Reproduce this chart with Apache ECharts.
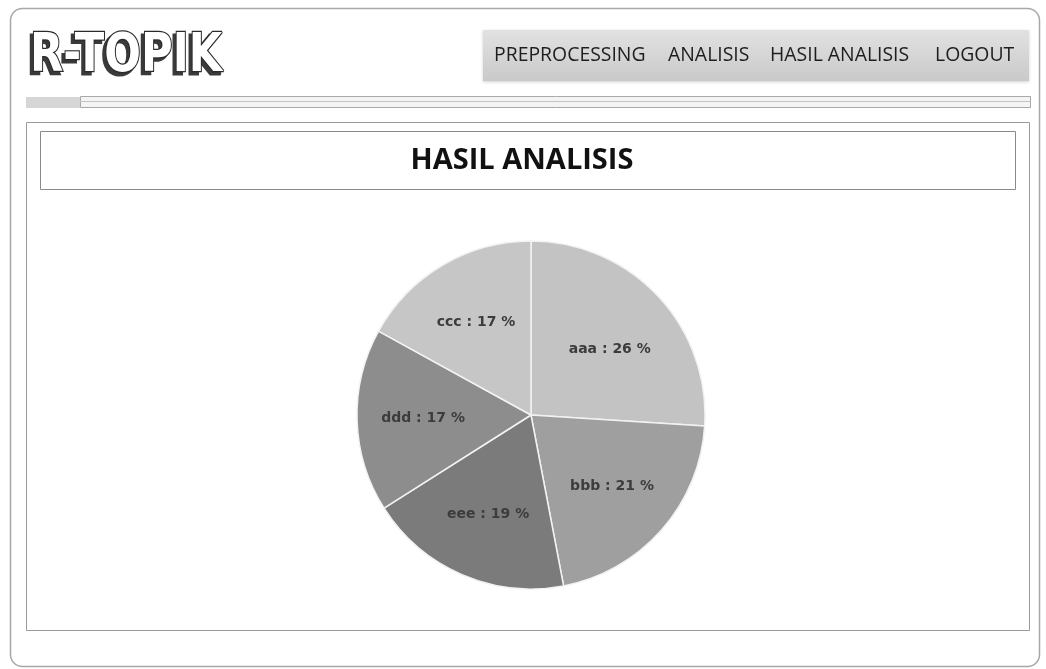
<!DOCTYPE html>
<html>
<head>
<meta charset="utf-8">
<style>
  html, body { margin: 0; padding: 0; background: #ffffff; }
  #main { width: 1046px; height: 669px; }
</style>
<script src="https://cdn.jsdelivr.net/npm/echarts@6/dist/echarts.min.js"></script>
</head>
<body>
<div id="main"></div>
<script>
// Topic shares (percent), clockwise from 12 o'clock
const categories = ['aaa', 'bbb', 'eee', 'ddd', 'ccc'];
const shares = [26, 21, 19, 17, 17];
const sliceColors = ['#c3c3c3', '#9f9f9f', '#7b7b7b', '#8d8d8d', '#c6c6c6'];

// Navigation bar entries
const menuItems = ['PREPROCESSING', 'ANALISIS', 'HASIL ANALISIS', 'LOGOUT'];
const menuX = [494, 668, 770, 935];

const pieData = categories.map((name, i) => ({
  name: name,
  value: shares[i],
  itemStyle: { color: sliceColors[i] }
}));

const chart = echarts.init(document.getElementById('main'), null, { renderer: 'canvas' });

const logoFont = 'bold 54px "DejaVu Sans"';

const graphics = [
  // outer page frame
  { type: 'rect', shape: { x: 10.5, y: 8.5, width: 1029, height: 658, r: 12 },
    style: { fill: '#ffffff', stroke: '#a8a8a8', lineWidth: 1.5 }, z: -10 },
  // logo: dark extrusion behind, outlined white letters in front
  { type: 'text', x: 27, y: 60, scaleX: 0.8,
    style: { text: 'R-TOPIK', font: logoFont, fill: '#3a3a3a',
      stroke: '#3a3a3a', lineWidth: 3, textVerticalAlign: 'middle' } },
  { type: 'text', x: 30, y: 57, scaleX: 0.8,
    style: { text: 'R-TOPIK', font: logoFont, fill: '#ffffff',
      stroke: '#2a2a2a', lineWidth: 2.5, textVerticalAlign: 'middle' } },
  // navigation bar
  { type: 'rect', shape: { x: 483, y: 30, width: 546, height: 51 },
    style: {
      fill: new echarts.graphic.LinearGradient(0, 0, 0, 1, [
        { offset: 0, color: '#e2e2e2' }, { offset: 1, color: '#c9c9c9' }
      ]),
      shadowColor: 'rgba(0,0,0,0.18)', shadowBlur: 3, shadowOffsetY: 1
    } },
  // separator bands under the header
  { type: 'rect', shape: { x: 26, y: 97, width: 54, height: 11 }, style: { fill: '#d6d6d6' } },
  { type: 'rect', shape: { x: 80.5, y: 96.5, width: 950, height: 11 },
    style: { fill: '#f4f4f4', stroke: '#a9a9a9', lineWidth: 1 } },
  { type: 'line', shape: { x1: 80, y1: 101.5, x2: 1030, y2: 101.5 },
    style: { stroke: '#c4c4c4', lineWidth: 1 } },
  // content panel
  { type: 'rect', shape: { x: 26.5, y: 122.5, width: 1003, height: 508 },
    style: { fill: 'none', stroke: '#9a9a9a', lineWidth: 1 } },
  // title box
  { type: 'rect', shape: { x: 40.5, y: 131.5, width: 975, height: 58 },
    style: { fill: 'none', stroke: '#8a8a8a', lineWidth: 1 } },
  // page heading
  { type: 'text', x: 522, y: 161,
    style: { text: 'HASIL ANALISIS', font: 'bold 29px "Open Sans"', fill: '#111111',
      textAlign: 'center', textVerticalAlign: 'middle' } }
];

menuItems.forEach((label, i) => {
  graphics.push({
    type: 'text', x: menuX[i], y: 55, scaleX: 0.97,
    style: { text: label, font: '20px "Open Sans"', fill: '#1e1e1e', textVerticalAlign: 'middle' }
  });
});

const option = {
  backgroundColor: '#ffffff',
  animation: false,
  graphic: graphics,
  series: [
    {
      // slices
      type: 'pie',
      center: [531, 415],
      radius: [0, 174],
      startAngle: 90,
      clockwise: true,
      silent: true,
      label: { show: false },
      labelLine: { show: false },
      itemStyle: { borderColor: '#f2f2f2', borderWidth: 1.5 },
      data: pieData
    },
    {
      // label ring placed a little outside the half-radius
      type: 'pie',
      center: [531, 415],
      radius: [36, 174],
      startAngle: 90,
      clockwise: true,
      silent: true,
      itemStyle: { color: 'rgba(0,0,0,0)' },
      labelLine: { show: false },
      label: {
        show: true,
        position: 'inside',
        formatter: p => p.name + ' : ' + p.value + ' %',
        fontFamily: 'DejaVu Sans',
        fontWeight: 'bold',
        fontSize: 14,
        color: '#3c3c3c'
      },
      labelLayout: p => p.dataIndex === 0 ? { dy: 8 } : {},
      data: categories.map((name, i) => ({ name: name, value: shares[i] }))
    }
  ]
};

chart.setOption(option);
</script>
</body>
</html>
